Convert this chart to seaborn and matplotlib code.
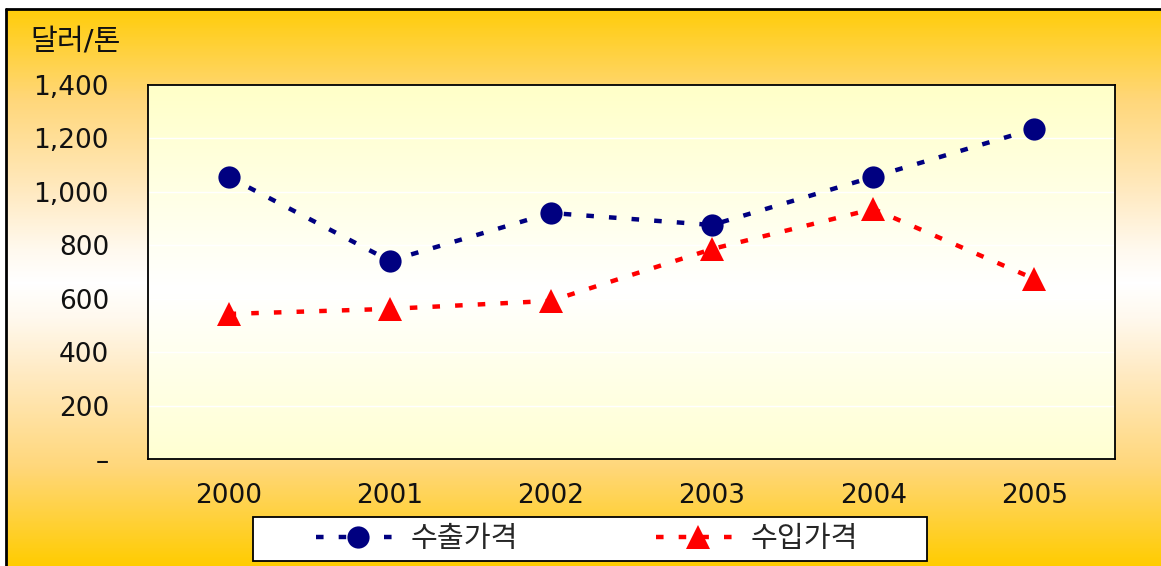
import numpy as np
import pandas as pd
import matplotlib
matplotlib.use("Agg")
import matplotlib.pyplot as plt
from matplotlib.colors import LinearSegmentedColormap
from matplotlib.patches import Rectangle
from matplotlib.ticker import FixedLocator, FuncFormatter
import seaborn as sns

years = ["2000", "2001", "2002", "2003", "2004", "2005"]
export_price = [1056, 742, 921, 876, 1056, 1236]
import_price = [543, 562, 592, 786, 936, 674]
series_names = ["수출가격", "수입가격"]
y_ticks = [0, 200, 400, 600, 800, 1000, 1200, 1400]

sns.set_style("white")
plt.rcParams["font.family"] = ["DejaVu Sans", "Noto Sans CJK KR"]

W, H = 1161, 566
fig = plt.figure(figsize=(W / 100, H / 100), dpi=100)

# background gradient (gold - white - gold)
bg = fig.add_axes([0, 0, 1, 1], zorder=-10)
bg.set_xlim(0, W)
bg.set_ylim(H, 0)
bg.axis("off")
outer_cmap = LinearSegmentedColormap.from_list(
    "outer", [(0, "#FFCC00"), (0.35, "#FFD77A"), (0.68, "#FFEAC2"),
              (0.88, "#FFF9EE"), (1, "#FFFFFF")])
rows = np.arange(9, H)
grad = 1 - np.abs(rows - 283) / 283.0
bg.imshow(grad[:, None], cmap=outer_cmap, vmin=0, vmax=1, aspect="auto",
          extent=[6, W, H, 9], interpolation="bilinear")
bg.plot([6, 6], [9, H], color="black", lw=2)
bg.plot([6, W], [9, 9], color="black", lw=2)
# legend box
bg.add_patch(Rectangle((253, 517), 927 - 253, 561 - 517, facecolor="white",
                       edgecolor="black", lw=1.3, zorder=5))

# plot area
ax = fig.add_axes([148 / W, 1 - 459 / H, (1115 - 148) / W, (459 - 85) / H])
ax.set_facecolor("none")
inner_cmap = LinearSegmentedColormap.from_list("inner", ["#FFFFC8", "#FFFFFF"])
prow = np.linspace(85, 459, 200)
pgrad = 1 - np.clip(np.abs(prow - 290) / 205.0, 0, 1)
ax.imshow(pgrad[:, None], cmap=inner_cmap, vmin=0, vmax=1, aspect="auto",
          extent=[-0.5, 5.5, 0, 1400], zorder=0)

df = pd.DataFrame({
    "year": list(range(len(years))) * 2,
    "price": export_price + import_price,
    "series": [series_names[0]] * len(years) + [series_names[1]] * len(years),
})

sns.lineplot(data=df[df.series == series_names[0]], x="year", y="price", ax=ax,
             color="#000080", marker="o", markersize=16, markeredgewidth=0,
             linewidth=3.2, label=series_names[0], zorder=3)
sns.lineplot(data=df[df.series == series_names[1]], x="year", y="price", ax=ax,
             color="#FF0000", marker="^", markersize=17, markeredgewidth=0,
             linewidth=3.2, label=series_names[1], zorder=3)
for ln in ax.lines:
    ln.set_dashes((1.7, 3.4))

ax.set_xlim(-0.5, 5.5)
ax.set_ylim(0, 1400)
ax.set_xlabel("")
ax.set_ylabel("")

ax.set_xticks(range(len(years)))
ax.set_xticklabels(years)
ax.xaxis.set_minor_locator(FixedLocator([i + 0.5 for i in range(len(years) - 1)]))
ax.tick_params(axis="x", which="major", length=0, pad=17, labelsize=19, colors="#111111")
ax.tick_params(axis="x", which="minor", direction="in", length=6, width=1, color="black")

ax.yaxis.set_major_locator(FixedLocator(y_ticks))
ax.yaxis.set_major_formatter(FuncFormatter(lambda v, p: "–" if v == 0 else f"{int(v):,}"))
ax.tick_params(axis="y", direction="in", length=5, width=1, pad=28, labelsize=19,
               colors="#111111")
ax.tick_params(axis="y", color="black")
ax.yaxis.grid(True, color="white", linewidth=1, zorder=1)
ax.set_axisbelow(True)

for s in ax.spines.values():
    s.set_visible(True)
    s.set_color("black")
    s.set_linewidth(1.3)

fig.text(30 / W, 1 - 41 / H, "달러/톤", fontsize=21, va="center", ha="left", color="#111111")

handles, labels = ax.get_legend_handles_labels()
ax.legend_.remove()
leg = fig.legend(handles, labels, loc="center",
                 bbox_to_anchor=(587 / W, 1 - 539 / H),
                 ncol=2, fontsize=21, frameon=False, handlelength=2.9,
                 handletextpad=0.35, columnspacing=4.7, borderpad=0)
leg.set_zorder(10)

fig.savefig("out.png", dpi=100)
